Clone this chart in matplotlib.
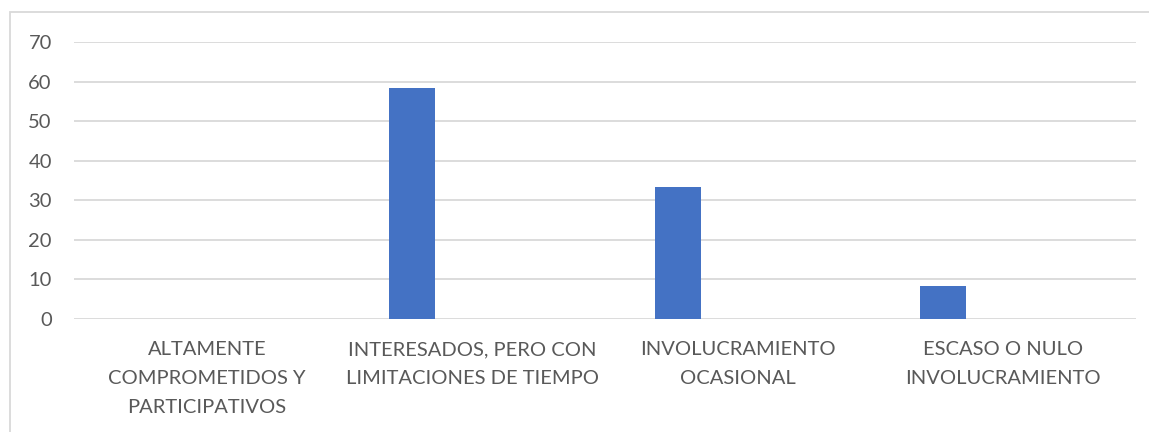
import numpy as np
import matplotlib.pyplot as plt
from matplotlib.patches import Rectangle

# Data
categories = ['ALTAMENTE\nCOMPROMETIDOS Y\nPARTICIPATIVOS',
              'INTERESADOS, PERO CON\nLIMITACIONES DE TIEMPO',
              'INVOLUCRAMIENTO\nOCASIONAL',
              'ESCASO O NULO\nINVOLUCRAMIENTO']
values = [0, 58.3, 33.3, 8.3]
yticks = [0, 10, 20, 30, 40, 50, 60, 70]

plt.rcParams['font.family'] = ['Lato', 'DejaVu Sans']
text_color = '#595959'

fig = plt.figure(figsize=(11.49, 4.32), dpi=100)
ax = fig.add_axes([74 / 1149, 1 - 319 / 432, 1062 / 1149, 277 / 432])

x = np.arange(len(categories))
ax.bar(x - 0.226, values, width=0.173, color='#4472C4', zorder=3)

ax.set_xlim(-0.5, len(categories) - 0.5)
ax.set_ylim(0, 70)
ax.set_yticks(yticks)
ax.set_yticklabels([str(t) for t in yticks])
ax.set_xticks(x)
ax.set_xticklabels(categories, linespacing=1.85)

ax.grid(axis='y', color='#D9D9D9', linewidth=1.3, zorder=0)
for s in ax.spines.values():
    s.set_visible(False)
ax.tick_params(axis='both', length=0, colors=text_color, labelsize=14.5)
ax.tick_params(axis='y', pad=16)
ax.tick_params(axis='x', pad=16)

# Chart border
fig.patches.append(Rectangle((10 / 1149, -0.1), 1.2, 1 - 12 / 432 + 0.1,
                             transform=fig.transFigure, fill=False,
                             edgecolor='#D9D9D9', linewidth=1.3))

fig.savefig('out.png', dpi=100)
